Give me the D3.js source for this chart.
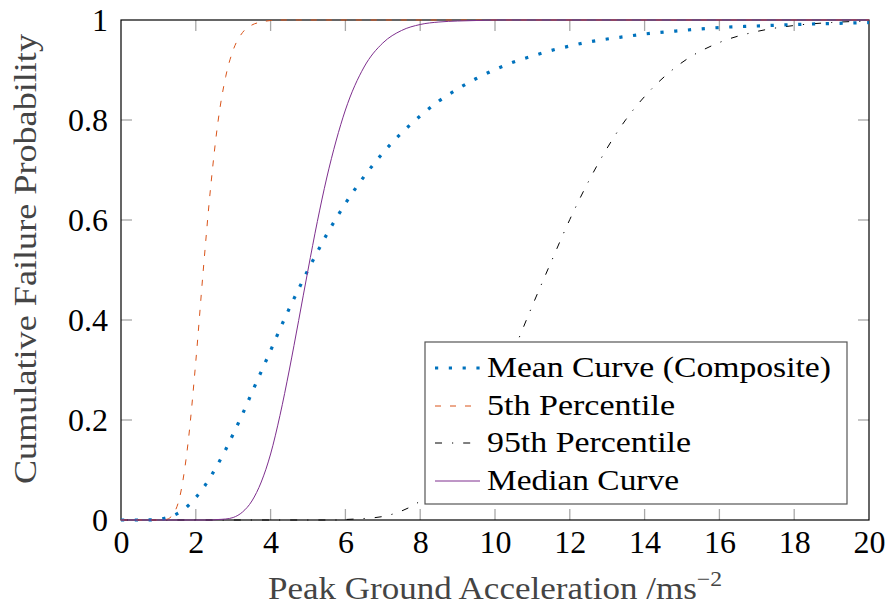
<!DOCTYPE html>
<html><head><meta charset="utf-8">
<script src="https://cdn.jsdelivr.net/npm/d3@7"></script>
<style>html,body{margin:0;padding:0;background:#fff;}svg{display:block;}</style>
</head><body>
<svg id="chart" width="891" height="612"></svg>
<script>
// ---- data ----
const pga = [0, 0.5, 1, 1.2, 1.4, 1.6, 1.8, 2, 2.2, 2.4, 2.6, 2.8, 3, 3.25, 3.5, 3.75, 4, 4.25, 4.5, 4.75, 5, 5.25, 5.5, 5.75, 6, 6.5, 7, 7.5, 8, 8.5, 9, 9.5, 10, 10.5, 11, 11.5, 12, 12.5, 13, 13.5, 14, 15, 16, 17, 18, 19, 20];
const meanCurve = [0, 0, 0.001, 0.004, 0.009, 0.017, 0.029, 0.045, 0.064, 0.087, 0.113, 0.141, 0.172, 0.212, 0.255, 0.297, 0.339, 0.382, 0.423, 0.462, 0.5, 0.536, 0.571, 0.603, 0.633, 0.687, 0.734, 0.774, 0.808, 0.838, 0.862, 0.883, 0.901, 0.916, 0.928, 0.939, 0.948, 0.956, 0.962, 0.967, 0.972, 0.979, 0.985, 0.988, 0.991, 0.993, 0.995];
const p05Curve = [0, 0, 0, 0.001, 0.012, 0.056, 0.159, 0.317, 0.5, 0.668, 0.8, 0.887, 0.94, 0.975, 0.99, 0.996, 0.999, 1, 1, 1, 1, 1, 1, 1, 1, 1, 1, 1, 1, 1, 1, 1, 1, 1, 1, 1, 1, 1, 1, 1, 1, 1, 1, 1, 1, 1, 1];
const p95Curve = [0, 0, 0, 0, 0, 0, 0, 0, 0, 0, 0, 0, 0, 0, 0, 0, 0, 0, 0, 0, 0, 0, 0, 0, 0.001, 0.003, 0.007, 0.018, 0.038, 0.071, 0.118, 0.18, 0.256, 0.339, 0.429, 0.516, 0.601, 0.677, 0.744, 0.801, 0.847, 0.915, 0.955, 0.977, 0.989, 0.995, 0.998];
const medianCurve = [0, 0, 0, 0, 0, 0, 0, 0, 0, 0, 0.001, 0.002, 0.005, 0.016, 0.038, 0.076, 0.132, 0.209, 0.3, 0.399, 0.5, 0.597, 0.684, 0.758, 0.82, 0.906, 0.954, 0.979, 0.991, 0.996, 0.998, 0.999, 1, 1, 1, 1, 1, 1, 1, 1, 1, 1, 1, 1, 1, 1, 1];
const xTicks = [0, 2, 4, 6, 8, 10, 12, 14, 16, 18, 20];
const yTicks = [0, 0.2, 0.4, 0.6, 0.8, 1];
const seriesNames = ["Mean Curve (Composite)", "5th Percentile", "95th Percentile", "Median Curve"];

// ---- styles ----
const styles = [
  {data: meanCurve,   color: "#0072BD", width: 3.2, dash: "3.2 10.6"},
  {data: p05Curve,    color: "#D95319", width: 1,   dash: "6 9"},
  {data: p95Curve,    color: "#000000", width: 1,   dash: "7 10 1.2 10"},
  {data: medianCurve, color: "#7E2F8E", width: 1,   dash: null}
];
const FONT = "'Liberation Serif', 'Times New Roman', serif";

const svg = d3.select("#chart");
const L = 121, R = 869, T = 20, B = 520;
const x = d3.scaleLinear().domain([0, 20]).range([L, R]);
const y = d3.scaleLinear().domain([0, 1]).range([B, T]);

// inward ticks on all four sides
const tickCol = "#a8a8a8", tickLen = 11;
const g = svg.append("g");
xTicks.forEach(t => {
  if (t === 0 || t === 20) return;
  g.append("line").attr("x1", x(t)).attr("x2", x(t)).attr("y1", B).attr("y2", B - tickLen)
    .attr("stroke", tickCol).attr("stroke-width", 1.3);
  g.append("line").attr("x1", x(t)).attr("x2", x(t)).attr("y1", T).attr("y2", T + tickLen)
    .attr("stroke", tickCol).attr("stroke-width", 1.3);
});
yTicks.forEach(t => {
  if (t === 0 || t === 1) return;
  g.append("line").attr("x1", L).attr("x2", L + tickLen).attr("y1", y(t)).attr("y2", y(t))
    .attr("stroke", tickCol).attr("stroke-width", 1.3);
  g.append("line").attr("x1", R).attr("x2", R - tickLen).attr("y1", y(t)).attr("y2", y(t))
    .attr("stroke", tickCol).attr("stroke-width", 1.3);
});

// tick labels via axes (lines hidden)
const xAxis = svg.append("g").attr("transform", `translate(0,${B})`)
  .call(d3.axisBottom(x).tickValues(xTicks).tickSize(0).tickPadding(33).tickFormat(d3.format("d")));
const yAxis = svg.append("g").attr("transform", `translate(${L},0)`)
  .call(d3.axisLeft(y).tickValues(yTicks).tickSize(0).tickPadding(13).tickFormat(d => d === 0 ? "0" : d === 1 ? "1" : d3.format(".1f")(d)));
[xAxis, yAxis].forEach(a => {
  a.select(".domain").remove();
  a.selectAll("text").attr("font-family", FONT).attr("font-size", 32).attr("fill", "#000");
});
yAxis.selectAll("text").attr("dy", "0.34em");
xAxis.selectAll("text").attr("dy", "0");

const line = d3.line().x((d, i) => x(pga[i])).y(d => y(d)).curve(d3.curveMonotoneX);
function drawCurve(s) {
  svg.append("path").datum(s.data).attr("d", line).attr("fill", "none")
    .attr("stroke", s.color).attr("stroke-width", s.width)
    .attr("stroke-dasharray", s.dash);
}
// 95th percentile sits under the frame; others on top
drawCurve(styles[2]);

// frame
svg.append("rect").attr("x", L).attr("y", T).attr("width", R - L).attr("height", B - T)
  .attr("fill", "none").attr("stroke", "#000").attr("stroke-width", 1.2);

[0, 1, 3].forEach(i => drawCurve(styles[i]));

// axis titles
svg.append("text").attr("x", 268).attr("y", 599).attr("font-family", FONT).attr("font-size", 31)
  .attr("fill", "#444").attr("textLength", 454).attr("lengthAdjust", "spacingAndGlyphs")
  .text("Peak Ground Acceleration /ms")
  .append("tspan").attr("dy", -13).attr("font-size", 21).text("−2");
svg.append("text").attr("transform", "translate(36,259) rotate(-90)").attr("text-anchor", "middle")
  .attr("font-family", FONT).attr("font-size", 32).attr("fill", "#444")
  .attr("textLength", 450).attr("lengthAdjust", "spacingAndGlyphs")
  .text("Cumulative Failure Probability");

// legend
const lg = svg.append("g");
lg.append("rect").attr("x", 425).attr("y", 342).attr("width", 422).attr("height", 162)
  .attr("fill", "#fff").attr("stroke", "#555").attr("stroke-width", 1.2);
const rowY = [368, 406, 443, 481];
const labW = [344, 188, 204, 192];
seriesNames.forEach((name, i) => {
  const s = styles[i];
  lg.append("line").attr("x1", 435).attr("x2", 480).attr("y1", rowY[i]).attr("y2", rowY[i])
    .attr("stroke", s.color).attr("stroke-width", s.width).attr("stroke-dasharray", s.dash);
  lg.append("text").attr("x", 487).attr("y", rowY[i] + 9).attr("font-family", FONT)
    .attr("font-size", 30).attr("fill", "#000")
    .attr("textLength", labW[i]).attr("lengthAdjust", "spacingAndGlyphs").text(name);
});
</script>
</body></html>
